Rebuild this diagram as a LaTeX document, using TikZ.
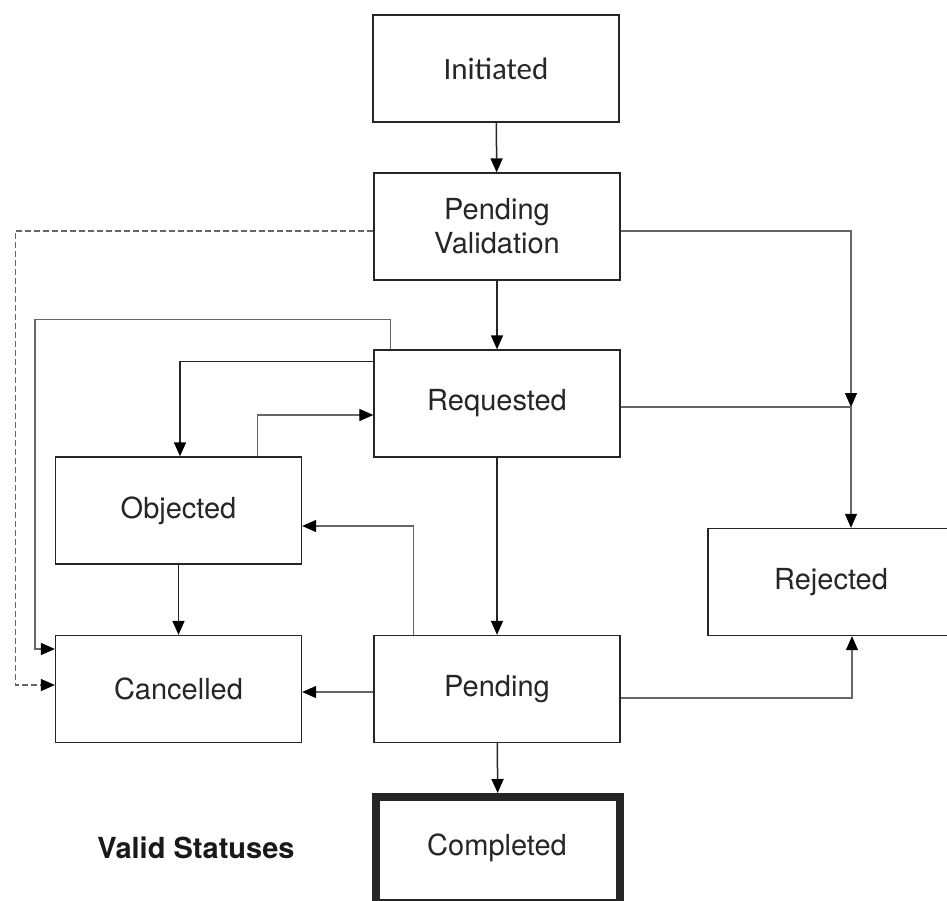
\documentclass[tikz,border=0pt]{standalone}
\usepackage{fontspec}
\setmainfont{TeX Gyre Heros}
\newfontfamily\calibrifont{Carlito}
\usetikzlibrary{arrows.meta}

\tikzset{
  status/.style={draw=black!85, line width=1.3pt, minimum width=246pt, minimum height=107pt,
    inner sep=0pt, align=center, text=black!85, font=\fontsize{29}{34}\selectfont},
  link/.style={draw=black!60, line width=1.1pt, -{Triangle[length=14pt,width=12pt,color=black]}},
  mainlink/.style={link, draw=black!85, line width=1.5pt},
}

\begin{document}
\begin{tikzpicture}[x=1pt,y=-1pt]
\useasboundingbox[fill=white] (0,0) rectangle (947,900);

% statuses
\node[status, font=\calibrifont\fontsize{31}{36}\selectfont] (init) at (496,68.5) {Initiated};
\node[status] (pval) at (497,226.5) {Pending\\Validation};
\node[status] (req) at (497,403.5) {Requested};
\node[status] (obj) at (178.5,510.5) {Objected};
\node[status] (rej) at (831,582) {Rejected};
\node[status] (canc) at (178.5,689) {Cancelled};
\node[status] (pend) at (497,689) {Pending};
\node[status, line width=8pt, minimum width=244pt, minimum height=106pt] (comp) at (498,850) {};
\node[font=\fontsize{29}{34}\selectfont, text=black!85] (compl) at (497,848) {Completed};
\node[font=\bfseries\fontsize{29}{34}\selectfont, text=black!90] (legend) at (196,848) {Valid Statuses};

\coordinate (jr) at (851,407);

% transitions
\draw[mainlink] (init) -- (pval);
\draw[mainlink] (pval) -- (req);
\draw[mainlink] (req) -- (pend);
\draw[mainlink] (pend) -- (comp);
\draw[mainlink] (obj) -- (canc);
\draw[link] ([yshift=-4.5pt]pval.east) -| (jr);
\draw[link] ([yshift=-3.5pt]req.east) -- (jr) -- (jr |- rej.north);
\draw[link, dash pattern=on 6pt off 3pt] ([yshift=-4.5pt]pval.west) -- ++(-358,0) |- ([yshift=4pt]canc.west);
\draw[link] ([xshift=17pt]req.north west) -- ++(0,-30) -| (35,649) -- ([yshift=40pt]canc.west);
\draw[mainlink] ([yshift=-12pt]req.north west) -| ([xshift=1.5pt]obj.north);
\draw[link] ([xshift=-45pt]obj.north east) |- ([yshift=-11.5pt]req.west);
\draw[link] ([xshift=40pt]pend.north west) |- ([yshift=-15.5pt]obj.east);
\draw[link] ([yshift=-3pt]pend.west) -- ([yshift=-3pt]canc.east);
\draw[link] ([yshift=-9pt]pend.east) -| ([xshift=21pt]rej.south);
\end{tikzpicture}
\end{document}
